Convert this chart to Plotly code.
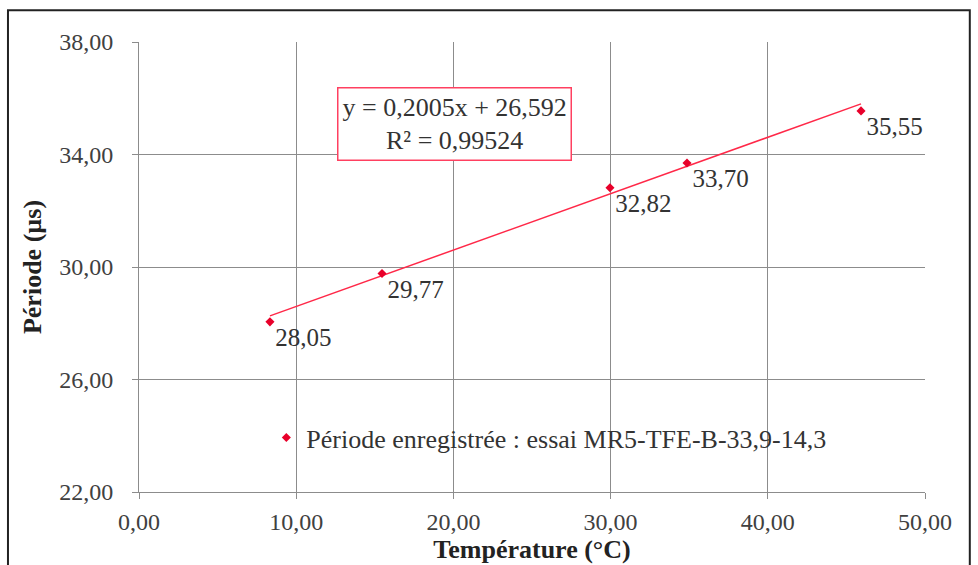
import plotly.graph_objects as go

temperature = [8.33, 15.46, 29.96, 34.86, 45.93]
periode = [28.05, 29.77, 32.82, 33.70, 35.55]
slope = 0.2005
intercept = 26.592
r2_text = "0,99524"
series_name = "Période enregistrée : essai MR5-TFE-B-33,9-14,3"

trend_x = [min(temperature), max(temperature)]
trend_y = [slope * v + intercept for v in trend_x]

font_family = "'Liberation Serif', 'Times New Roman', Times, 'DejaVu Serif', serif"
fig = go.Figure()
fig.add_trace(go.Scatter(
    x=trend_x, y=trend_y, mode="lines",
    line=dict(color="#ff2848", width=1.5),
    showlegend=False, hoverinfo="skip"))
fig.add_trace(go.Scatter(
    x=temperature, y=periode, mode="markers+text",
    marker=dict(color="#e8002a", size=7, symbol="diamond"),
    text=[f"{v:.2f}".replace(".", ",") for v in periode],
    textposition="bottom right",
    textfont=dict(family=font_family, size=25, color="#333333"),
    name=series_name))

tickfont = dict(family=font_family, size=24, color="#404040")
titlefont = dict(family=font_family, size=26, color="#222222")
fig.update_layout(
    width=978, height=565,
    margin=dict(l=139, r=53, t=42, b=70),
    paper_bgcolor="white", plot_bgcolor="white",
    separators=", ",
    font=dict(family=font_family, size=16, color="#404040"),
    showlegend=True,
    legend=dict(x=0.162, y=0.121, xanchor="left", yanchor="middle",
                bgcolor="rgba(0,0,0,0)", itemwidth=30,
                font=dict(family=font_family, size=26, color="#333333")),
    xaxis=dict(range=[0, 50], tick0=0, dtick=10, tickformat=".2f",
               showgrid=True, gridcolor="#8c8c8c", gridwidth=1,
               showline=True, linecolor="#8c8c8c", zeroline=False,
               ticks="outside", ticklen=6, tickcolor="#8c8c8c",
               tickfont=tickfont, ticklabelstandoff=2,
               title=dict(text="<b>Température (°C)</b>", standoff=0,
                          font=titlefont)),
    yaxis=dict(range=[22, 38], tick0=22, dtick=4, tickformat=".2f",
               showgrid=True, gridcolor="#8c8c8c", gridwidth=1,
               showline=True, linecolor="#8c8c8c", zeroline=False,
               ticks="outside", ticklen=6, tickcolor="#8c8c8c",
               tickfont=tickfont, ticklabelstandoff=14,
               title=dict(text="<b>Période (µs)</b>", standoff=10,
                          font=titlefont)),
)

fig.add_annotation(
    x=20.1, y=35.1, xref="x", yref="y",
    text=f"y = {str(slope).replace('.', ',')}x + {str(intercept).replace('.', ',')}<br>R² = {r2_text}",
    showarrow=False, align="center",
    font=dict(family=font_family, size=26, color="#333333"),
    bordercolor="#ff4060", borderwidth=1.5, borderpad=4, bgcolor="white")

fig.add_shape(type="rect", xref="paper", yref="paper",
              x0=-0.1667, x1=1.057, y0=-0.17, y1=1.0706,
              line=dict(color="#222222", width=2))

fig.write_html("out.html")
